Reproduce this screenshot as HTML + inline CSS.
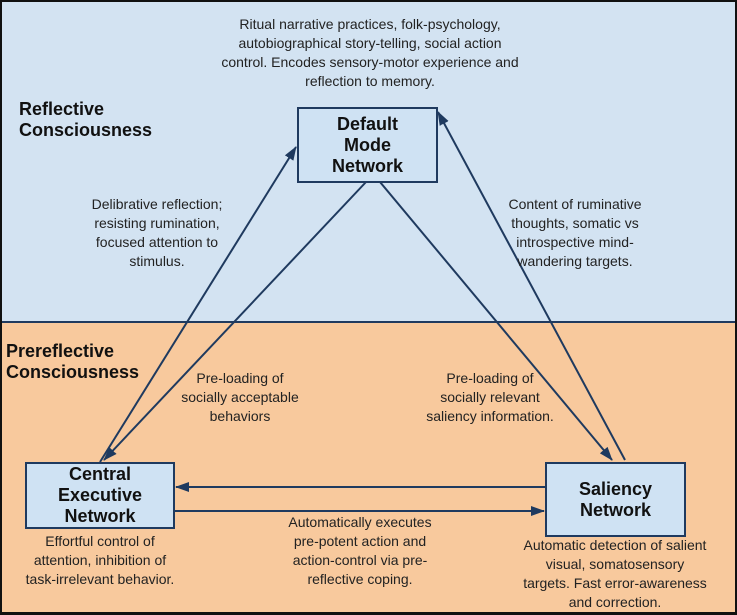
<!DOCTYPE html>
<html><head><style>
body{margin:0;width:737px;height:615px;overflow:hidden;font-family:"Liberation Sans",sans-serif}
.t{position:absolute;text-align:center;font-size:14px;line-height:19px;color:#222;white-space:nowrap}
.b{position:absolute;font-weight:bold;color:#111}
.box{position:absolute;background:#cfe2f3;border:2px solid #1f3a5f;box-sizing:border-box;display:flex;align-items:center;justify-content:center;text-align:center;font-weight:bold;font-size:18px;line-height:21px;color:#111}
</style></head><body>
<div style="position:absolute;left:0;top:0;width:737px;height:322px;background:#d3e3f2"></div>
<div style="position:absolute;left:0;top:322px;width:737px;height:293px;background:#f8c99d"></div>
<div style="position:absolute;left:0;top:321px;width:737px;height:2px;background:#1f3a5f"></div>
<div style="position:absolute;left:0;top:0;width:737px;height:615px;box-sizing:border-box;border:2px solid #111;border-bottom-width:3px"></div>
<svg style="position:absolute;left:0;top:0" width="737" height="615">
<defs><marker id="a" markerWidth="14" markerHeight="10" refX="13" refY="5" orient="auto" markerUnits="userSpaceOnUse"><path d="M0,0L14,5L0,10z" fill="#1f3a5f"/></marker></defs>
<g stroke="#1f3a5f" stroke-width="2" fill="none">
<line x1="100" y1="462" x2="296" y2="147" marker-end="url(#a)"/>
<line x1="366" y1="182" x2="104" y2="460" marker-end="url(#a)"/>
<line x1="380" y1="182" x2="612" y2="460" marker-end="url(#a)"/>
<line x1="625" y1="460" x2="438" y2="112" marker-end="url(#a)"/>
<line x1="545" y1="487" x2="176" y2="487" marker-end="url(#a)"/>
<line x1="174" y1="511" x2="544" y2="511" marker-end="url(#a)"/>
</g></svg>
<div class="box" style="left:297px;top:107px;width:141px;height:76px">Default<br>Mode<br>Network</div>
<div class="box" style="left:25px;top:462px;width:150px;height:67px">Central<br>Executive<br>Network</div>
<div class="box" style="left:545px;top:462px;width:141px;height:75px">Saliency<br>Network</div>
<div class="b" style="left:19px;top:99px;font-size:18px;line-height:21px">Reflective<br>Consciousness</div>
<div class="b" style="left:6px;top:341px;font-size:18px;line-height:21px">Prereflective<br>Consciousness</div>
<div class="t" style="left:195px;top:15px;width:350px">Ritual narrative practices, folk-psychology,<br>autobiographical story-telling, social action<br>control. Encodes sensory-motor experience and<br>reflection to memory.</div>
<div class="t" style="left:72px;top:195px;width:170px">Delibrative reflection;<br>resisting rumination,<br>focused attention to<br>stimulus.</div>
<div class="t" style="left:490px;top:195px;width:170px">Content of ruminative<br>thoughts, somatic vs<br>introspective mind-<br>wandering targets.</div>
<div class="t" style="left:170px;top:369px;width:140px">Pre-loading of<br>socially acceptable<br>behaviors</div>
<div class="t" style="left:405px;top:369px;width:170px">Pre-loading of<br>socially relevant<br>saliency information.</div>
<div class="t" style="left:10px;top:532px;width:180px">Effortful control of<br>attention, inhibition of<br>task-irrelevant behavior.</div>
<div class="t" style="left:260px;top:513px;width:200px">Automatically executes<br>pre-potent action and<br>action-control via pre-<br>reflective coping.</div>
<div class="t" style="left:500px;top:536px;width:230px">Automatic detection of salient<br>visual, somatosensory<br>targets. Fast error-awareness<br>and correction.</div>
</body></html>
